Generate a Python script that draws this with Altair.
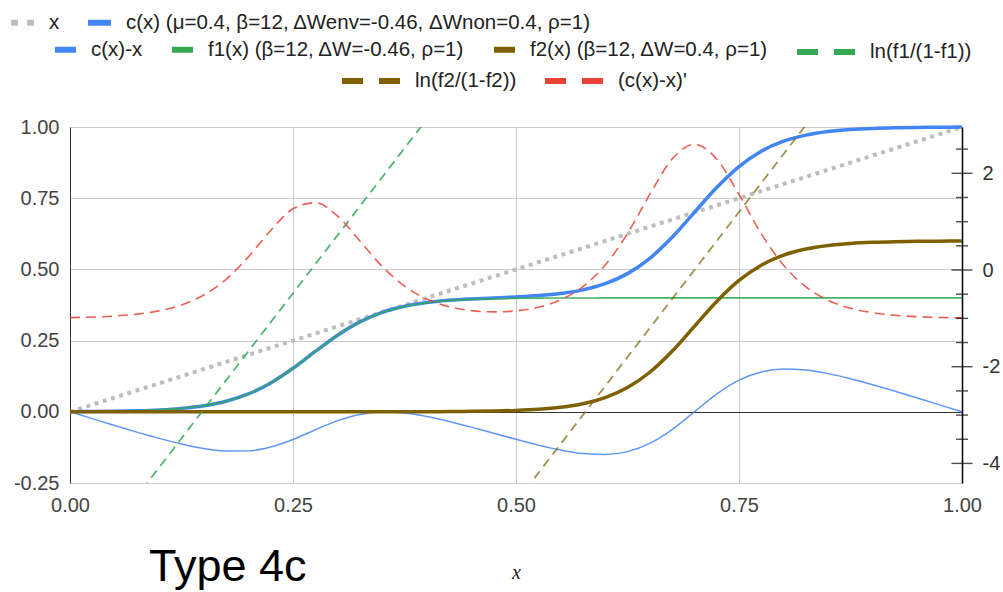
import altair as alt
import pandas as pd

# ---------------- data ----------------
X = [0.0, 0.025, 0.05, 0.075, 0.1, 0.125, 0.15, 0.175, 0.2, 0.225, 0.25, 0.275, 0.3, 0.325,
     0.35, 0.375, 0.4, 0.425, 0.45, 0.475, 0.5, 0.525, 0.55, 0.575, 0.6, 0.625, 0.65, 0.675,
     0.7, 0.725, 0.75, 0.775, 0.8, 0.825, 0.85, 0.875, 0.9, 0.925, 0.95, 0.975, 1.0]

C = [0.0006, 0.0011, 0.0020, 0.0037, 0.0067, 0.0120, 0.0213, 0.0371, 0.0628, 0.1014, 0.1529,
     0.2120, 0.2690, 0.3158, 0.3490, 0.3704, 0.3836, 0.3913, 0.3962, 0.3998, 0.4033, 0.4080,
     0.4155, 0.4282, 0.4498, 0.4851, 0.5389, 0.6126, 0.7000, 0.7874, 0.8611, 0.9149, 0.9501,
     0.9715, 0.9840, 0.9911, 0.9951, 0.9973, 0.9985, 0.9992, 0.9996]

CMX = [0.0006, -0.0239, -0.0480, -0.0713, -0.0933, -0.1130, -0.1287, -0.1379, -0.1372, -0.1236,
       -0.0971, -0.0630, -0.0310, -0.0092, -0.0010, -0.0046, -0.0164, -0.0337, -0.0538, -0.0752,
       -0.0967, -0.1170, -0.1345, -0.1468, -0.1502, -0.1399, -0.1111, -0.0624, 0.0000, 0.0624,
       0.1111, 0.1399, 0.1501, 0.1465, 0.1340, 0.1161, 0.0951, 0.0723, 0.0485, 0.0242, -0.0004]

F1 = [0.0006, 0.0011, 0.0020, 0.0037, 0.0067, 0.0120, 0.0213, 0.0371, 0.0628, 0.1014, 0.1529,
      0.2120, 0.2690, 0.3157, 0.3489, 0.3702, 0.3831, 0.3905, 0.3947, 0.3971, 0.3984, 0.3991,
      0.3995, 0.3997, 0.3999, 0.4, 0.4, 0.4, 0.4, 0.4, 0.4, 0.4, 0.4, 0.4, 0.4, 0.4, 0.4, 0.4,
      0.4, 0.4, 0.4]

F2 = [0.0, 0.0, 0.0, 0.0, 0.0, 0.0, 0.0, 0.0, 0.0, 0.0, 0.0, 0.0, 0.0, 0.0001, 0.0001, 0.0002,
      0.0004, 0.0008, 0.0015, 0.0027, 0.0049, 0.0089, 0.0160, 0.0285, 0.0499, 0.0851, 0.1389,
      0.2126, 0.3000, 0.3874, 0.4611, 0.5149, 0.5501, 0.5715, 0.5840, 0.5911, 0.5951, 0.5973,
      0.5985, 0.5992, 0.5996]

DERIV = [-0.985, -0.973, -0.952, -0.913, -0.843, -0.722, -0.517, -0.192, 0.271, 0.817, 1.267,
         1.391, 1.115, 0.599, 0.074, -0.333, -0.601, -0.759, -0.840, -0.866, -0.845, -0.769,
         -0.616, -0.343, 0.102, 0.755, 1.563, 2.295, 2.600, 2.295, 1.562, 0.753, 0.098, -0.349,
         -0.627, -0.790, -0.883, -0.936, -0.965, -0.981, -0.989]

LN1_X = [0.05, 0.15, 0.25, 0.35, 0.45]
LN1 = [-5.28, -2.88, -0.48, 1.92, 4.32]
LN2_X = [0.5, 0.6, 0.7, 0.8, 0.9]
LN2 = [-4.8, -2.4, 0.0, 2.4, 4.8]

X_TICKS = [0.0, 0.25, 0.5, 0.75, 1.0]
Y_TICKS = [-0.25, 0.0, 0.25, 0.5, 0.75, 1.0]
R_LABELS = [-4, -2, 0, 2]
R_MAJOR = [-4, -2, 0, 2]
R_MINOR = [-3.5, -3, -2.5, -1.5, -1, -0.5, 0.5, 1, 1.5, 2.5]

NAMES = ["x",
         "c(x) (μ=0.4, β=12, ΔWenv=-0.46, ΔWnon=0.4, ρ=1)",
         "c(x)-x",
         "f1(x) (β=12, ΔW=-0.46, ρ=1)",
         "f2(x) (β=12, ΔW=0.4, ρ=1)",
         "ln(f1/(1-f1))",
         "ln(f2/(1-f2))",
         "(c(x)-x)'"]

FONT = "Liberation Sans"
BLUE = "#4285f4"
GREEN = "#34a853"
OLIVE = "#7f6000"
RED = "#ea4335"
GRAY = "#bdbdbd"

W, H = 892, 356
HYPHEN = "replace(datum.label, '\u2212', '-')"

# ---------------- encodings ----------------
x_axis = alt.Axis(values=X_TICKS, format=".2f", grid=True, gridColor="#cccccc", domain=False,
                  ticks=False, labelFont=FONT, labelFontSize=20, labelColor="#444444",
                  labelPadding=12, labelFlush=False, title="x", titleFont="Liberation Serif",
                  titleFontStyle="italic", titleFontWeight="normal", titleFontSize=20,
                  titleColor="#222222", titleY=89, titleBaseline="middle")
xenc = alt.X("x:Q", scale=alt.Scale(domain=[0, 1], nice=False, zero=False), axis=x_axis)

left_axis = alt.Axis(orient="left", values=Y_TICKS, format=".2f", labelExpr=HYPHEN, grid=True,
                     gridColor={"condition": {"test": "datum.value === 0", "value": "#333333"},
                                "value": "#cccccc"},
                     domain=True, domainColor="#333333", ticks=False, labelFont=FONT,
                     labelFontSize=20, labelColor="#444444", labelPadding=11, labelFlush=False,
                     title=None)
yleft = alt.Y("value:Q", scale=alt.Scale(domain=[-0.25, 1.0], nice=False, zero=False),
              axis=left_axis)

right_axis = alt.Axis(orient="right", values=R_LABELS, format="d", labelExpr=HYPHEN, grid=False,
                      ticks=False, tickSize=0, domain=True, domainColor="#000000",
                      domainWidth=1.5, labelFont=FONT, labelFontSize=20, labelColor="#333333",
                      labelPadding=20, labelFlush=False, title=None)
yright = alt.Y("value:Q", scale=alt.Scale(domain=[-4.405, 2.958], nice=False, zero=False),
               axis=right_axis)


def line(xs, ys, yenc, color, width, dash=None, opacity=1.0, clip=False, interp="monotone"):
    kw = dict(color=color, strokeWidth=width, strokeOpacity=opacity, interpolate=interp,
              clip=clip)
    if dash:
        kw["strokeDash"] = dash
    df = pd.DataFrame({"x": xs, "value": ys})
    return alt.Chart(df).mark_line(**kw).encode(x=xenc, y=yenc)


left = alt.layer(
    line(X, X, yleft, GRAY, 4, dash=[4, 4.6], interp="linear"),
    line(X, C, yleft, BLUE, 3.5),
    line(X, CMX, yleft, BLUE, 1.5, opacity=0.85),
    line(X, F1, yleft, GREEN, 1.6, opacity=0.9),
    line(X, F2, yleft, OLIVE, 3.5),
)

tick_major = alt.Chart(pd.DataFrame({"value": R_MAJOR})).mark_tick(
    orient="horizontal", color="#000000", thickness=1.4, size=21).encode(
    x=alt.X(datum=1.0), y=yright)
tick_minor = alt.Chart(pd.DataFrame({"value": R_MINOR})).mark_tick(
    orient="horizontal", color="#000000", thickness=1.4, size=12).encode(
    x=alt.X(datum=1.0), y=yright)

right = alt.layer(
    line(LN1_X, LN1, yright, GREEN, 1.8, dash=[9, 6], opacity=0.85, clip=True, interp="linear"),
    line(LN2_X, LN2, yright, OLIVE, 1.8, dash=[9, 6], opacity=0.7, clip=True, interp="linear"),
    line(X, DERIV, yright, RED, 1.6, dash=[10, 6], opacity=0.85, clip=True),
    tick_major,
    tick_minor,
)

# ---------------- legends (one per row) ----------------
legend_df = pd.DataFrame({"x": [0.0], "value": [0.0], "series": [NAMES[0]]})


def legend_layer(names, colors, dashes, lx, ly, length, pad):
    leg = alt.Legend(orient="none", legendX=lx, legendY=ly, direction="horizontal", title=None,
                     symbolType="stroke", symbolSize=length * length, symbolStrokeWidth=6,
                     labelFont=FONT, labelFontSize=20.5, labelColor="#222222", labelOffset=12,
                     columnPadding=pad, padding=0, labelLimit=0)
    return alt.Chart(legend_df).transform_filter("false").mark_line().encode(
        x=alt.X("x:Q"),
        y=alt.Y("value:Q", axis=None),
        color=alt.Color("series:N", scale=alt.Scale(domain=names, range=colors), legend=leg),
        strokeDash=alt.StrokeDash("series:N", scale=alt.Scale(domain=names, range=dashes),
                                  legend=leg),
    )


leg1 = legend_layer(NAMES[0:2], [GRAY, BLUE], [[7, 9], [1, 0]], -62, -119, 23, 16)
leg2 = legend_layer(NAMES[2:5], [BLUE, GREEN, OLIVE], [[1, 0], [1, 0], [1, 0]], -18, -91, 21, 17)
leg3 = legend_layer(NAMES[5:6], [GREEN], [[21, 16]], 724, -107, 58, 16)
leg4 = legend_layer(NAMES[6:8], [OLIVE, RED], [[21, 16], [21, 16]], 269, -78, 58, 16)

chart = alt.layer(left, right, leg1, leg2, leg3, leg4).resolve_scale(
    y="independent", color="independent", strokeDash="independent"
).properties(
    width=W, height=H,
    autosize=alt.AutoSizeParams(type="none"),
    padding={"left": 70, "top": 127, "right": 41, "bottom": 109},
    title=alt.TitleParams("Type 4c", orient="bottom", anchor="start", frame="group",
                          fontSize=45, font=FONT, fontWeight="normal", color="#000000",
                          dx=79, offset=-37),
).configure_view(stroke=None).configure(background="white")

chart.save("out.html", embed_options={"renderer": "svg", "actions": False})
